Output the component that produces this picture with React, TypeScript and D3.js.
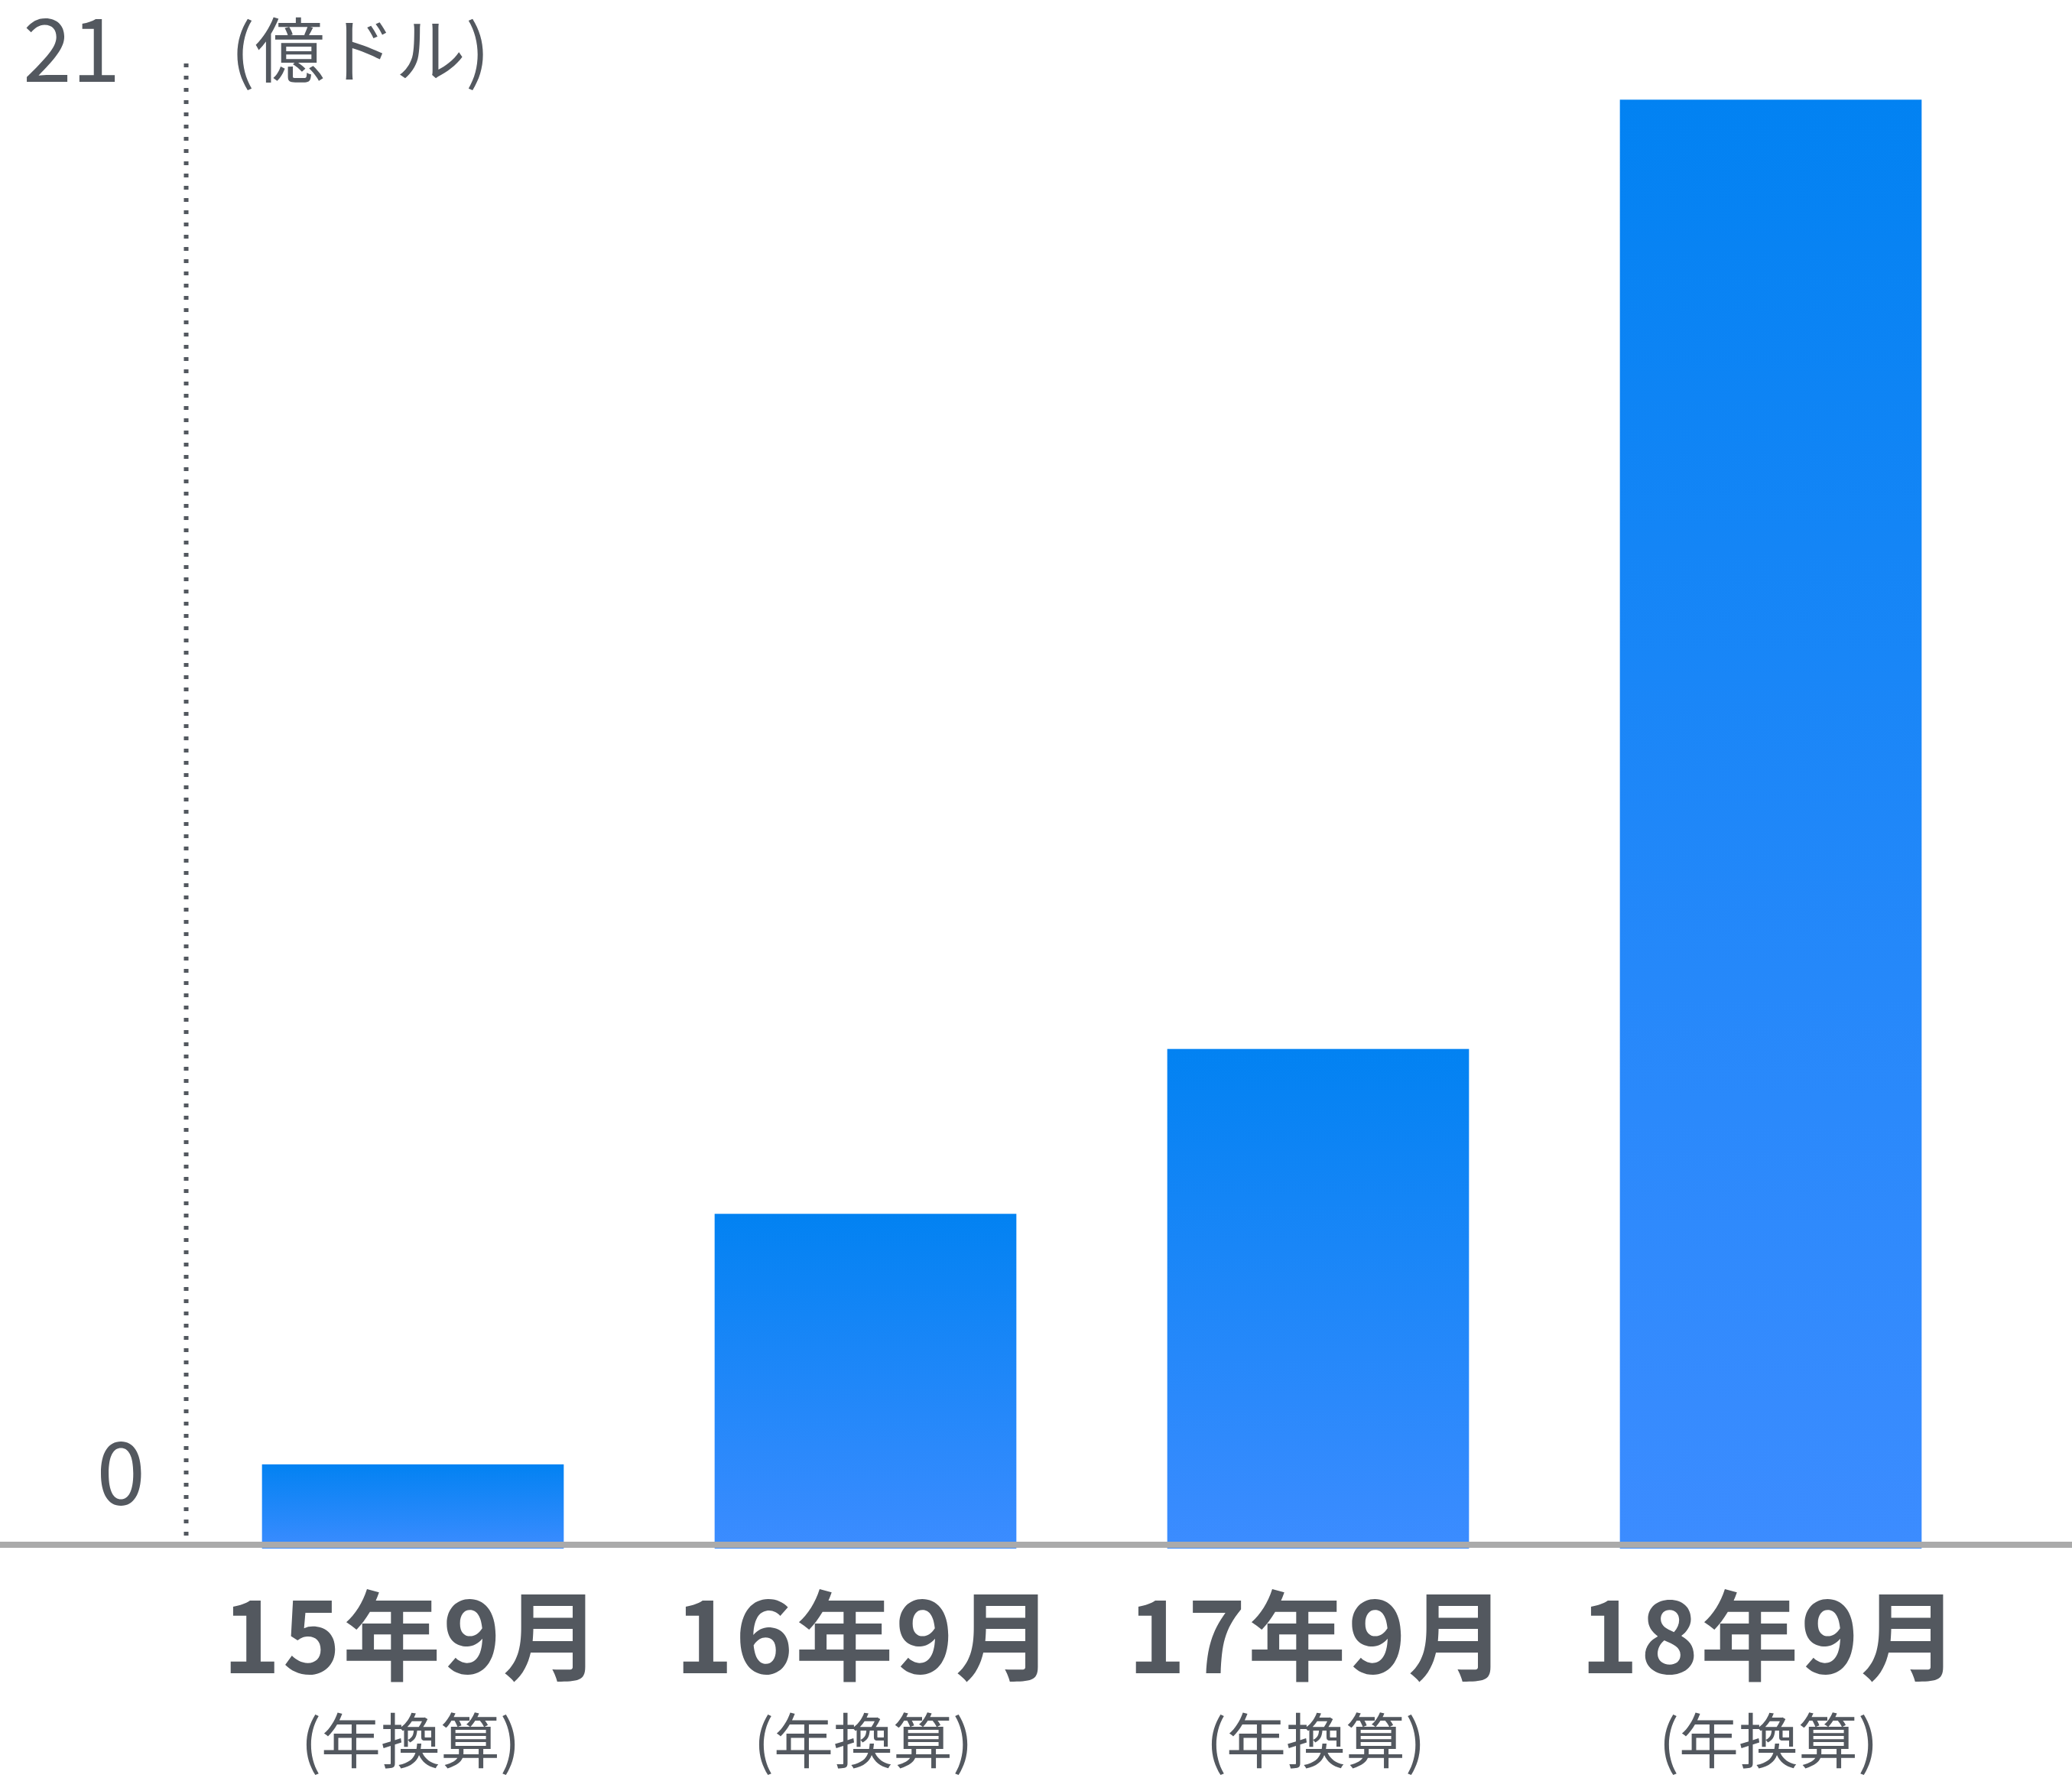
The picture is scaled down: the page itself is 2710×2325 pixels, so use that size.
import React from "react";
import * as d3 from "d3";

const categories: string[] = ["15年9月", "16年9月", "17年9月", "18年9月"];
const subLabel = "(年換算)";
const values: number[] = [1.18, 4.69, 7.0, 20.3];
const yTickMax = "21";
const yTickMin = "0";
const unitLabel = "(億ドル)";

const W = 2710;
const H = 2325;
const TEXT = "#53585F";
const FONT = "'Noto Sans CJK JP', 'Noto Sans', sans-serif";

export default function App() {
  const x = d3
    .scaleBand<string>()
    .domain(categories)
    .range([244, 2612])
    .paddingInner(1 / 3)
    .paddingOuter(1 / 6);
  const y = d3.scaleLinear().domain([0, 21]).range([2025, 65]);

  return (
    <svg
      width={W}
      height={H}
      style={{ position: "absolute", left: 0, top: 0, background: "#fff" }}
      fontFamily={FONT}
    >
      <defs>
        <linearGradient id="barGrad" x1="0" y1="0" x2="0" y2="1">
          <stop offset="0%" stopColor="#0282F2" />
          <stop offset="100%" stopColor="#3C8CFF" />
        </linearGradient>
      </defs>
      <rect x={0} y={0} width={W} height={H} fill="#fff" />

      {/* dotted vertical axis */}
      <line
        x1={243.5}
        x2={243.5}
        y1={83}
        y2={y(0)}
        stroke={TEXT}
        strokeWidth={6}
        strokeDasharray="5 11"
      />

      {/* bars */}
      {categories.map((c, i) => (
        <rect
          key={c}
          x={x(c)}
          y={y(values[i])}
          width={x.bandwidth()}
          height={y(0) - y(values[i])}
          fill="url(#barGrad)"
        />
      ))}

      {/* baseline */}
      <line x1={0} x2={W} y1={y(0) - 5} y2={y(0) - 5} stroke="#AAAAAA" strokeWidth={8} />

      {/* y labels */}
      <text x={30} y={107} fontSize={115} fill={TEXT} fontWeight={400}>
        {yTickMax}
      </text>
      <text x={190} y={y(0) - 57} fontSize={115} fill={TEXT} fontWeight={400} textAnchor="end">
        {yTickMin}
      </text>
      <text x={302} y={100} fontSize={92} fill={TEXT}>
        {unitLabel}
      </text>

      {/* category labels */}
      {categories.map((c) => {
        const cx = (x(c) as number) + x.bandwidth() / 2;
        return (
          <g key={c}>
            <text
              x={cx}
              y={2188}
              fontSize={128}
              fontWeight={700}
              fill={TEXT}
              textAnchor="middle"
              letterSpacing={3}
            >
              {c}
            </text>
            <text x={cx - 3} y={2306} fontSize={78} fill={TEXT} textAnchor="middle">
              {subLabel}
            </text>
          </g>
        );
      })}
    </svg>
  );
}
